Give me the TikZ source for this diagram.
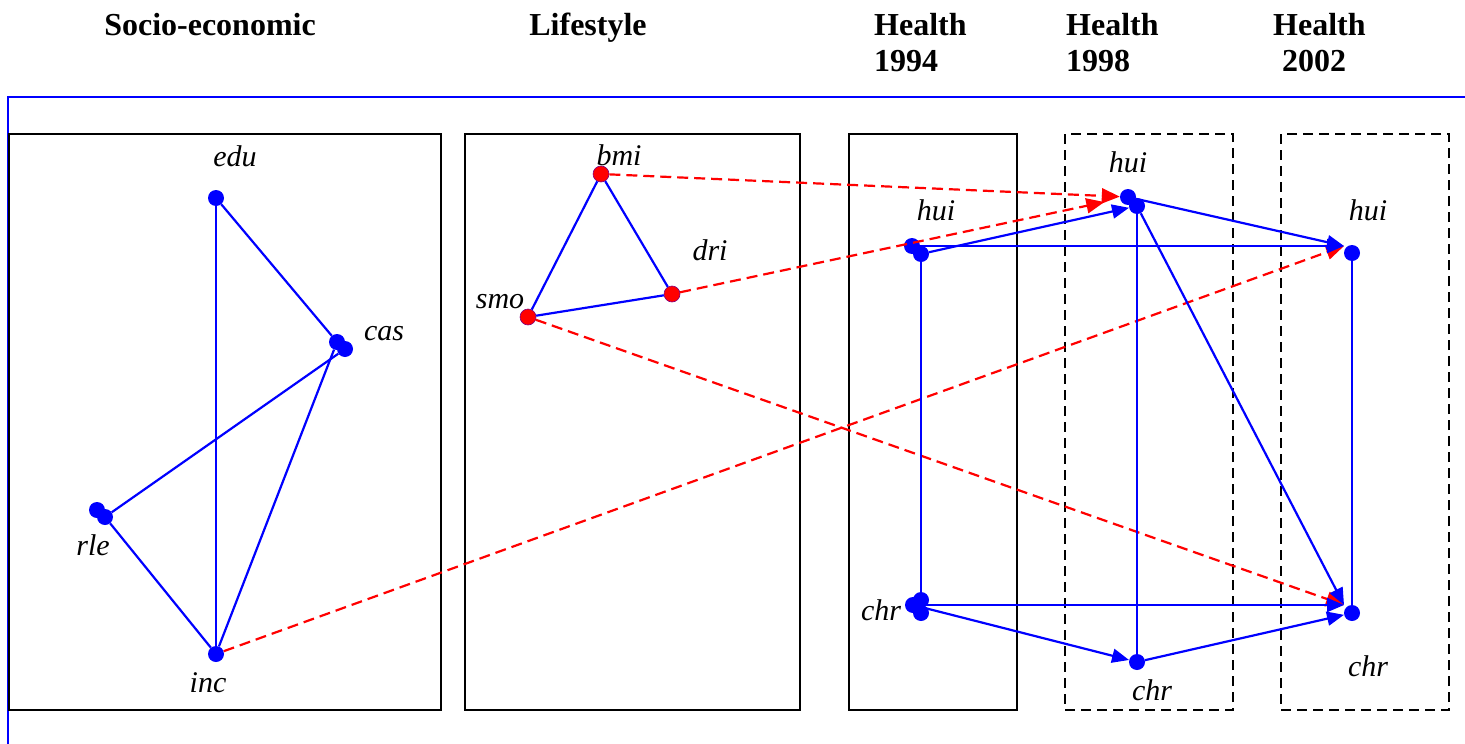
\documentclass[tikz,border=0pt]{standalone}
\usepackage{fontspec}
\setmainfont{Liberation Serif}
\usetikzlibrary{arrows.meta}
\begin{document}
\begin{tikzpicture}[x=1pt,y=-1pt,
  dot/.style={circle,fill=blue,inner sep=0pt,minimum size=16pt},
  rdot/.style={circle,fill=red,draw=violet,line width=0.6pt,inner sep=0pt,minimum size=16pt},
  link/.style={blue,line width=2.2pt},
  arr/.style={link,-{Triangle[length=17pt,width=14pt]}},
  rarr/.style={red,line width=2.2pt,dash pattern=on 11pt off 6pt,-{Triangle[length=18pt,width=15pt]}},
  panel/.style={draw=black,line width=1.5pt},
  dpanel/.style={panel,dash pattern=on 10pt off 6pt},
  head/.style={font=\fontsize{32}{38}\selectfont\bfseries,inner sep=0pt},
  lab/.style={font=\fontsize{30}{36}\selectfont\itshape,anchor=base,inner sep=0pt},
]
\useasboundingbox (0,0) rectangle (1465,744);

% outer frame
\draw[blue,line width=2.2pt] (1466,97) -- (8,97) -- (8,746);

% column headings
\node[head,anchor=base] (hSE) at (210,35) {Socio-economic};
\node[head,anchor=base] (hLS) at (588,35) {Lifestyle};
\node[head,anchor=base west] (hH1) at (874,35) {Health};
\node[head,anchor=base west] (hY1) at (874,71) {1994};
\node[head,anchor=base west] (hH2) at (1066,35) {Health};
\node[head,anchor=base west] (hY2) at (1066,71) {1998};
\node[head,anchor=base west] (hH3) at (1273,35) {Health};
\node[head,anchor=base west] (hY3) at (1282,71) {2002};

% panels
\draw[panel] (9,134) rectangle (441,710);
\draw[panel] (465,134) rectangle (800,710);
\draw[panel] (849,134) rectangle (1017,710);
\draw[dpanel] (1065,134) rectangle (1233,710);
\draw[dpanel] (1281,134) rectangle (1449,710);

% socio-economic variables
\node[dot] (edu) at (216,198) {};
\node[dot] (cas-a) at (337,342) {};
\node[dot] (cas-b) at (345,349) {};
\node[dot] (rle-a) at (97,510) {};
\node[dot] (rle-b) at (105,517) {};
\node[dot] (inc) at (216,654) {};
\node[lab] (edu-l) at (235,166) {edu};
\node[lab] (cas-l) at (384,340) {cas};
\node[lab] (rle-l) at (93,555) {rle};
\node[lab] (inc-l) at (208,692) {inc};

% lifestyle variables
\node[rdot] (bmi) at (601,174) {};
\node[rdot] (dri) at (672,294) {};
\node[rdot] (smo) at (528,317) {};
\node[lab] (bmi-l) at (619,165) {bmi};
\node[lab] (dri-l) at (710,260) {dri};
\node[lab] (smo-l) at (500,308) {smo};

% health 1994
\node[dot] (hui94-a) at (912,246) {};
\node[dot] (hui94-b) at (921,254) {};
\node[dot] (chr94-a) at (913,605) {};
\node[dot] (chr94-b) at (921,600) {};
\node[dot] (chr94-c) at (921,613) {};
\node[lab] (hui94-l) at (936,220) {hui};
\node[lab] (chr94-l) at (881,620) {chr};

% health 1998
\node[dot] (hui98-a) at (1128,197) {};
\node[dot] (hui98-b) at (1137,206) {};
\node[dot] (chr98) at (1137,662) {};
\node[lab] (hui98-l) at (1128,172) {hui};
\node[lab] (chr98-l) at (1152,700) {chr};

% health 2002
\node[dot] (hui02) at (1352,253) {};
\node[dot] (chr02) at (1352,613) {};
\node[lab] (hui02-l) at (1368,220) {hui};
\node[lab] (chr02-l) at (1368,676) {chr};
\coordinate (hui02in) at (1344,246);
\coordinate (chr02in) at (1344,605);

% links within the socio-economic block
\draw[link] (edu) -- (cas-a);
\draw[link] (edu) -- (inc);
\draw[link] (cas-b) -- (rle-b);
\draw[link] (cas-a) -- (inc);
\draw[link] (rle-b) -- (inc);

% links within the lifestyle block
\draw[link] (bmi) -- (dri);
\draw[link] (bmi) -- (smo);
\draw[link] (smo) -- (dri);

% effects on health
\draw[rarr] (inc) -- (hui02in);
\draw[rarr] (bmi) -- (hui98-a);
\draw[rarr,shorten >=16pt] (dri) -- (hui98-a);
\draw[rarr] (smo) -- (chr02in);

\draw[arr] (hui94-a) -- (hui02in);
\draw[arr] (hui94-b) -- (hui98-b);
\draw[link] (hui94-b) -- (chr94-b);
\draw[arr] (chr94-a) -- (chr02in);
\draw[arr] (chr94-a) -- (chr98);
\draw[arr] (hui98-a) -- (hui02in);
\draw[link] (hui98-b) -- (chr98);
\draw[arr] (hui98-b) -- (chr02in);
\draw[arr] (chr98) -- (chr02);
\draw[link] (hui02) -- (chr02);
\end{tikzpicture}
\end{document}
